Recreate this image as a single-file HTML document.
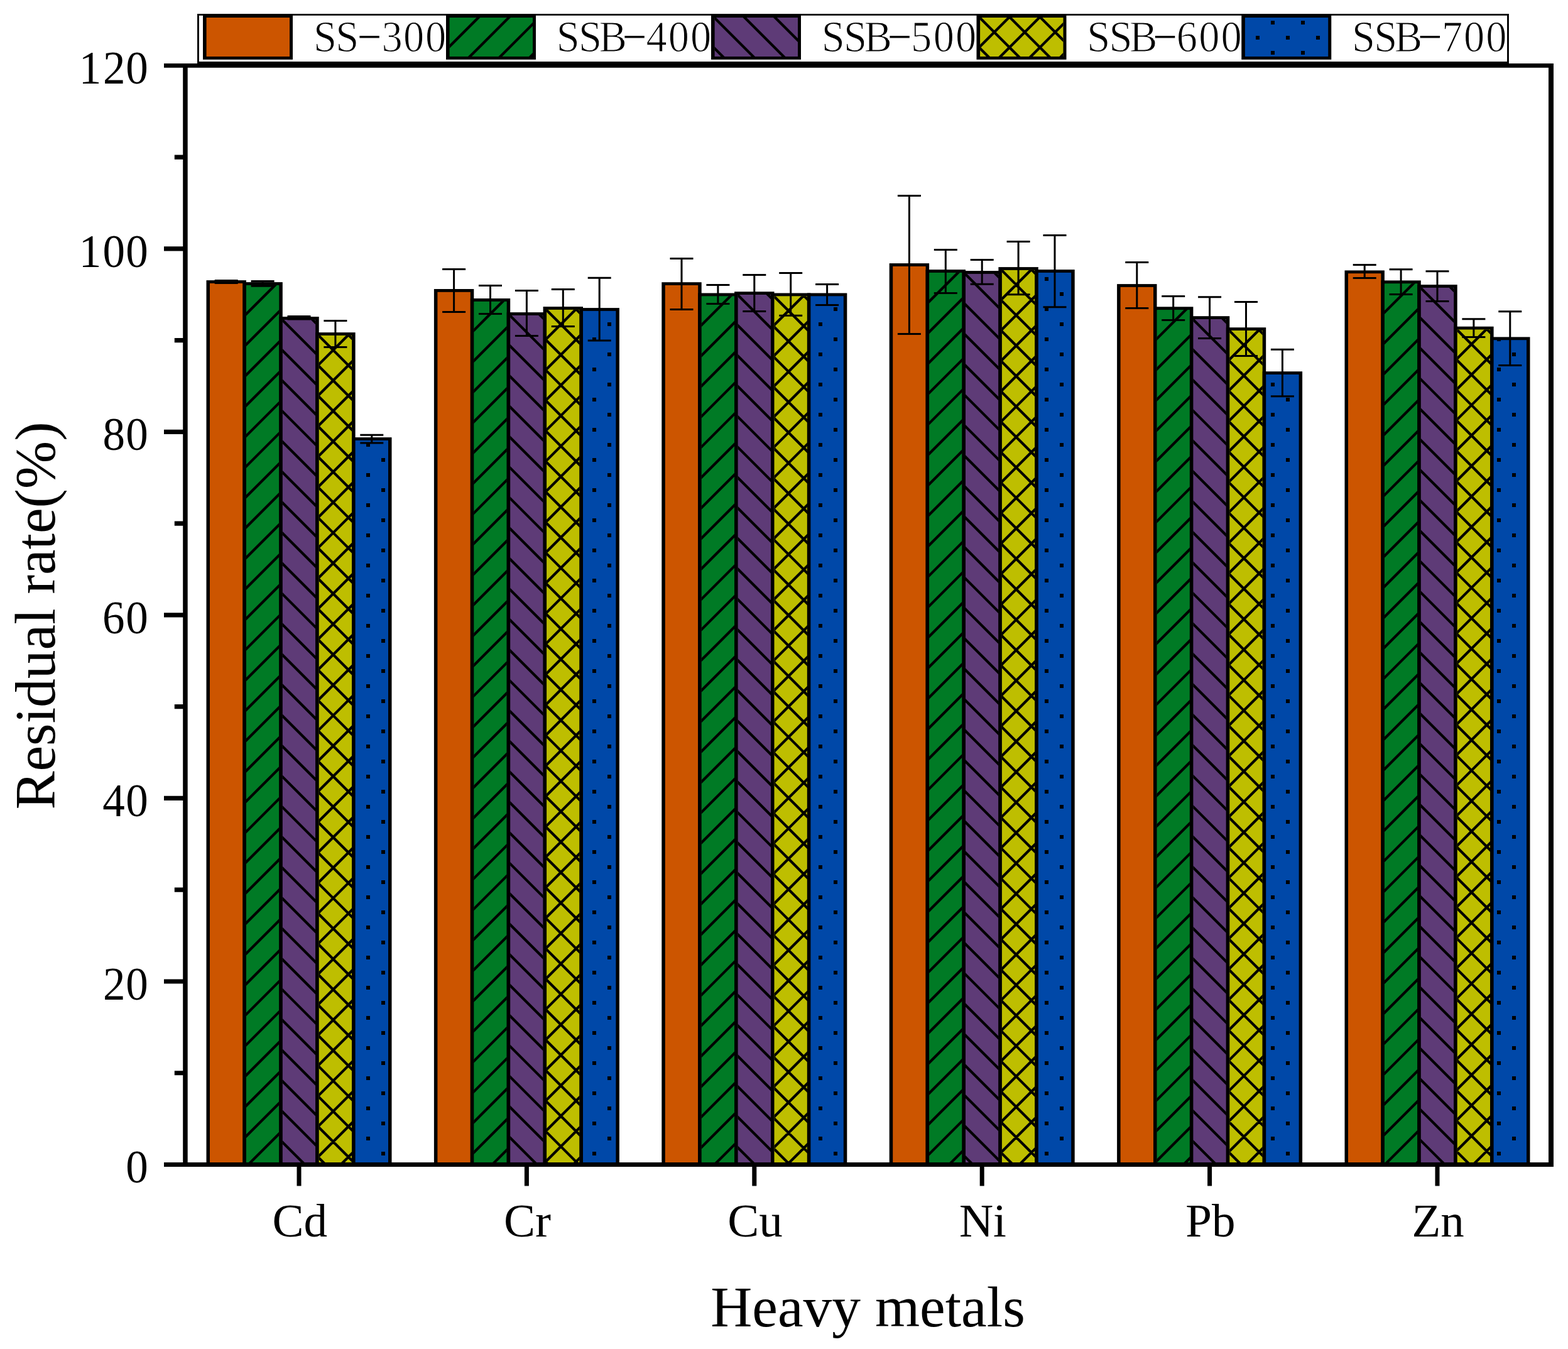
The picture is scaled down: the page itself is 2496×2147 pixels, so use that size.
<!DOCTYPE html><html><head><meta charset="utf-8"><title>Residual rate of heavy metals</title>
<style>html,body{margin:0;padding:0;background:#fff;overflow:hidden;}svg{display:block;}.t{font-family:"Liberation Serif","Noto Serif CJK SC",serif;fill:#000;}</style></head><body>
<svg width="2496" height="2147" viewBox="0 0 2496 2147">
<rect width="2496" height="2147" fill="#fff"/>
<defs><clipPath id="c1"><rect x="391.9" y="453.9" width="52.4" height="1399.6"/></clipPath><clipPath id="c2"><rect x="449.8" y="508.9" width="52.4" height="1344.6"/></clipPath><clipPath id="c3"><rect x="507.7" y="533.9" width="52.4" height="1319.6"/></clipPath><clipPath id="c4"><rect x="565.6" y="700.9" width="52.4" height="1152.6"/></clipPath><clipPath id="c5"><rect x="754.3" y="479.8" width="52.4" height="1373.7"/></clipPath><clipPath id="c6"><rect x="812.2" y="501.9" width="52.4" height="1351.6"/></clipPath><clipPath id="c7"><rect x="870.1" y="492.9" width="52.4" height="1360.6"/></clipPath><clipPath id="c8"><rect x="928" y="494.9" width="52.4" height="1358.6"/></clipPath><clipPath id="c9"><rect x="1116.7" y="471.3" width="52.4" height="1382.2"/></clipPath><clipPath id="c10"><rect x="1174.6" y="469" width="52.4" height="1384.5"/></clipPath><clipPath id="c11"><rect x="1232.5" y="471.3" width="52.4" height="1382.2"/></clipPath><clipPath id="c12"><rect x="1290.4" y="471.3" width="52.4" height="1382.2"/></clipPath><clipPath id="c13"><rect x="1479.1" y="433.9" width="52.4" height="1419.6"/></clipPath><clipPath id="c14"><rect x="1537" y="435.9" width="52.4" height="1417.6"/></clipPath><clipPath id="c15"><rect x="1594.9" y="429.9" width="52.4" height="1423.6"/></clipPath><clipPath id="c16"><rect x="1652.8" y="433.9" width="52.4" height="1419.6"/></clipPath><clipPath id="c17"><rect x="1841.5" y="493.1" width="52.4" height="1360.4"/></clipPath><clipPath id="c18"><rect x="1899.4" y="508" width="52.4" height="1345.5"/></clipPath><clipPath id="c19"><rect x="1957.3" y="526" width="52.4" height="1327.5"/></clipPath><clipPath id="c20"><rect x="2015.2" y="596" width="52.4" height="1257.5"/></clipPath><clipPath id="c21"><rect x="2203.9" y="451.2" width="52.4" height="1402.3"/></clipPath><clipPath id="c22"><rect x="2261.8" y="457.9" width="52.4" height="1395.6"/></clipPath><clipPath id="c23"><rect x="2319.7" y="524.5" width="52.4" height="1329"/></clipPath><clipPath id="c24"><rect x="2377.6" y="541.2" width="52.4" height="1312.3"/></clipPath><clipPath id="c25"><rect x="715.6" y="28" width="132.4" height="62"/></clipPath><clipPath id="c26"><rect x="1137.6" y="28" width="132.4" height="62"/></clipPath><clipPath id="c27"><rect x="1560.1" y="28" width="132.4" height="62"/></clipPath><clipPath id="c28"><rect x="1981.85" y="28" width="132.4" height="62"/></clipPath></defs>
<rect x="328.5" y="446.1" width="63.4" height="1407.4"/>
<rect x="334" y="450.9" width="52.4" height="1402.6" fill="#CC5500"/>
<rect x="386.4" y="449.1" width="63.4" height="1404.4"/>
<rect x="391.9" y="453.9" width="52.4" height="1399.6" fill="#007A25"/>
<path clip-path="url(#c1)" d="M387.9 406.99L448.3 346.59M387.9 455.45L448.3 395.05M387.9 503.91L448.3 443.51M387.9 552.37L448.3 491.97M387.9 600.83L448.3 540.43M387.9 649.29L448.3 588.89M387.9 697.75L448.3 637.35M387.9 746.21L448.3 685.81M387.9 794.67L448.3 734.27M387.9 843.13L448.3 782.73M387.9 891.59L448.3 831.19M387.9 940.05L448.3 879.65M387.9 988.51L448.3 928.11M387.9 1036.97L448.3 976.57M387.9 1085.43L448.3 1025.03M387.9 1133.89L448.3 1073.49M387.9 1182.35L448.3 1121.95M387.9 1230.81L448.3 1170.41M387.9 1279.27L448.3 1218.87M387.9 1327.73L448.3 1267.33M387.9 1376.19L448.3 1315.79M387.9 1424.65L448.3 1364.25M387.9 1473.11L448.3 1412.71M387.9 1521.57L448.3 1461.17M387.9 1570.03L448.3 1509.63M387.9 1618.49L448.3 1558.09M387.9 1666.95L448.3 1606.55M387.9 1715.41L448.3 1655.01M387.9 1763.87L448.3 1703.47M387.9 1812.33L448.3 1751.93M387.9 1860.79L448.3 1800.39M387.9 1909.25L448.3 1848.85M387.9 1957.71L448.3 1897.31" stroke="#000" stroke-width="4.2" fill="none"/>
<rect x="444.3" y="504.1" width="63.4" height="1349.4"/>
<rect x="449.8" y="508.9" width="52.4" height="1344.6" fill="#5E3B77"/>
<path clip-path="url(#c2)" d="M445.8 408.63L506.2 469.03M445.8 457.09L506.2 517.49M445.8 505.55L506.2 565.95M445.8 554.01L506.2 614.41M445.8 602.47L506.2 662.87M445.8 650.93L506.2 711.33M445.8 699.39L506.2 759.79M445.8 747.85L506.2 808.25M445.8 796.31L506.2 856.71M445.8 844.77L506.2 905.17M445.8 893.23L506.2 953.63M445.8 941.69L506.2 1002.09M445.8 990.15L506.2 1050.55M445.8 1038.61L506.2 1099.01M445.8 1087.07L506.2 1147.47M445.8 1135.53L506.2 1195.93M445.8 1183.99L506.2 1244.39M445.8 1232.45L506.2 1292.85M445.8 1280.91L506.2 1341.31M445.8 1329.37L506.2 1389.77M445.8 1377.83L506.2 1438.23M445.8 1426.29L506.2 1486.69M445.8 1474.75L506.2 1535.15M445.8 1523.21L506.2 1583.61M445.8 1571.67L506.2 1632.07M445.8 1620.13L506.2 1680.53M445.8 1668.59L506.2 1728.99M445.8 1717.05L506.2 1777.45M445.8 1765.51L506.2 1825.91M445.8 1813.97L506.2 1874.37M445.8 1862.43L506.2 1922.83" stroke="#000" stroke-width="4.2" fill="none"/>
<rect x="502.2" y="529.1" width="63.4" height="1324.4"/>
<rect x="507.7" y="533.9" width="52.4" height="1319.6" fill="#BEBE00"/>
<path clip-path="url(#c3)" d="M503.7 486.99L564.1 426.59M503.7 535.45L564.1 475.05M503.7 583.91L564.1 523.51M503.7 632.37L564.1 571.97M503.7 680.83L564.1 620.43M503.7 729.29L564.1 668.89M503.7 777.75L564.1 717.35M503.7 826.21L564.1 765.81M503.7 874.67L564.1 814.27M503.7 923.13L564.1 862.73M503.7 971.59L564.1 911.19M503.7 1020.05L564.1 959.65M503.7 1068.51L564.1 1008.11M503.7 1116.97L564.1 1056.57M503.7 1165.43L564.1 1105.03M503.7 1213.89L564.1 1153.49M503.7 1262.35L564.1 1201.95M503.7 1310.81L564.1 1250.41M503.7 1359.27L564.1 1298.87M503.7 1407.73L564.1 1347.33M503.7 1456.19L564.1 1395.79M503.7 1504.65L564.1 1444.25M503.7 1553.11L564.1 1492.71M503.7 1601.57L564.1 1541.17M503.7 1650.03L564.1 1589.63M503.7 1698.49L564.1 1638.09M503.7 1746.95L564.1 1686.55M503.7 1795.41L564.1 1735.01M503.7 1843.87L564.1 1783.47M503.7 1892.33L564.1 1831.93M503.7 1940.79L564.1 1880.39M503.7 433.63L564.1 494.03M503.7 482.09L564.1 542.49M503.7 530.55L564.1 590.95M503.7 579.01L564.1 639.41M503.7 627.47L564.1 687.87M503.7 675.93L564.1 736.33M503.7 724.39L564.1 784.79M503.7 772.85L564.1 833.25M503.7 821.31L564.1 881.71M503.7 869.77L564.1 930.17M503.7 918.23L564.1 978.63M503.7 966.69L564.1 1027.09M503.7 1015.15L564.1 1075.55M503.7 1063.61L564.1 1124.01M503.7 1112.07L564.1 1172.47M503.7 1160.53L564.1 1220.93M503.7 1208.99L564.1 1269.39M503.7 1257.45L564.1 1317.85M503.7 1305.91L564.1 1366.31M503.7 1354.37L564.1 1414.77M503.7 1402.83L564.1 1463.23M503.7 1451.29L564.1 1511.69M503.7 1499.75L564.1 1560.15M503.7 1548.21L564.1 1608.61M503.7 1596.67L564.1 1657.07M503.7 1645.13L564.1 1705.53M503.7 1693.59L564.1 1753.99M503.7 1742.05L564.1 1802.45M503.7 1790.51L564.1 1850.91M503.7 1838.97L564.1 1899.37M503.7 1887.43L564.1 1947.83" stroke="#000" stroke-width="4.2" fill="none"/>
<rect x="560.1" y="696.1" width="63.4" height="1157.4"/>
<rect x="565.6" y="700.9" width="52.4" height="1152.6" fill="#0048A8"/>
<path clip-path="url(#c4)" d="M583 705h6v6h-6zM583 753h6v6h-6zM583 801h6v6h-6zM583 849h6v6h-6zM583 897h6v6h-6zM583 945h6v6h-6zM583 993h6v6h-6zM583 1041h6v6h-6zM583 1089h6v6h-6zM583 1137h6v6h-6zM583 1185h6v6h-6zM583 1233h6v6h-6zM583 1281h6v6h-6zM583 1329h6v6h-6zM583 1377h6v6h-6zM583 1425h6v6h-6zM583 1473h6v6h-6zM583 1521h6v6h-6zM583 1569h6v6h-6zM583 1617h6v6h-6zM583 1665h6v6h-6zM583 1713h6v6h-6zM583 1761h6v6h-6zM583 1809h6v6h-6zM607 729h6v6h-6zM607 777h6v6h-6zM607 825h6v6h-6zM607 873h6v6h-6zM607 921h6v6h-6zM607 969h6v6h-6zM607 1017h6v6h-6zM607 1065h6v6h-6zM607 1113h6v6h-6zM607 1161h6v6h-6zM607 1209h6v6h-6zM607 1257h6v6h-6zM607 1305h6v6h-6zM607 1353h6v6h-6zM607 1401h6v6h-6zM607 1449h6v6h-6zM607 1497h6v6h-6zM607 1545h6v6h-6zM607 1593h6v6h-6zM607 1641h6v6h-6zM607 1689h6v6h-6zM607 1737h6v6h-6zM607 1785h6v6h-6zM607 1833h6v6h-6z"/>
<rect x="690.9" y="460" width="63.4" height="1393.5"/>
<rect x="696.4" y="464.8" width="52.4" height="1388.7" fill="#CC5500"/>
<rect x="748.8" y="475" width="63.4" height="1378.5"/>
<rect x="754.3" y="479.8" width="52.4" height="1373.7" fill="#007A25"/>
<path clip-path="url(#c5)" d="M750.3 432.89L810.7 372.49M750.3 481.35L810.7 420.95M750.3 529.81L810.7 469.41M750.3 578.27L810.7 517.87M750.3 626.73L810.7 566.33M750.3 675.19L810.7 614.79M750.3 723.65L810.7 663.25M750.3 772.11L810.7 711.71M750.3 820.57L810.7 760.17M750.3 869.03L810.7 808.63M750.3 917.49L810.7 857.09M750.3 965.95L810.7 905.55M750.3 1014.41L810.7 954.01M750.3 1062.87L810.7 1002.47M750.3 1111.33L810.7 1050.93M750.3 1159.79L810.7 1099.39M750.3 1208.25L810.7 1147.85M750.3 1256.71L810.7 1196.31M750.3 1305.17L810.7 1244.77M750.3 1353.63L810.7 1293.23M750.3 1402.09L810.7 1341.69M750.3 1450.55L810.7 1390.15M750.3 1499.01L810.7 1438.61M750.3 1547.47L810.7 1487.07M750.3 1595.93L810.7 1535.53M750.3 1644.39L810.7 1583.99M750.3 1692.85L810.7 1632.45M750.3 1741.31L810.7 1680.91M750.3 1789.77L810.7 1729.37M750.3 1838.23L810.7 1777.83M750.3 1886.69L810.7 1826.29M750.3 1935.15L810.7 1874.75" stroke="#000" stroke-width="4.2" fill="none"/>
<rect x="806.7" y="497.1" width="63.4" height="1356.4"/>
<rect x="812.2" y="501.9" width="52.4" height="1351.6" fill="#5E3B77"/>
<path clip-path="url(#c6)" d="M808.2 401.63L868.6 462.03M808.2 450.09L868.6 510.49M808.2 498.55L868.6 558.95M808.2 547.01L868.6 607.41M808.2 595.47L868.6 655.87M808.2 643.93L868.6 704.33M808.2 692.39L868.6 752.79M808.2 740.85L868.6 801.25M808.2 789.31L868.6 849.71M808.2 837.77L868.6 898.17M808.2 886.23L868.6 946.63M808.2 934.69L868.6 995.09M808.2 983.15L868.6 1043.55M808.2 1031.61L868.6 1092.01M808.2 1080.07L868.6 1140.47M808.2 1128.53L868.6 1188.93M808.2 1176.99L868.6 1237.39M808.2 1225.45L868.6 1285.85M808.2 1273.91L868.6 1334.31M808.2 1322.37L868.6 1382.77M808.2 1370.83L868.6 1431.23M808.2 1419.29L868.6 1479.69M808.2 1467.75L868.6 1528.15M808.2 1516.21L868.6 1576.61M808.2 1564.67L868.6 1625.07M808.2 1613.13L868.6 1673.53M808.2 1661.59L868.6 1721.99M808.2 1710.05L868.6 1770.45M808.2 1758.51L868.6 1818.91M808.2 1806.97L868.6 1867.37M808.2 1855.43L868.6 1915.83" stroke="#000" stroke-width="4.2" fill="none"/>
<rect x="864.6" y="488.1" width="63.4" height="1365.4"/>
<rect x="870.1" y="492.9" width="52.4" height="1360.6" fill="#BEBE00"/>
<path clip-path="url(#c7)" d="M866.1 445.99L926.5 385.59M866.1 494.45L926.5 434.05M866.1 542.91L926.5 482.51M866.1 591.37L926.5 530.97M866.1 639.83L926.5 579.43M866.1 688.29L926.5 627.89M866.1 736.75L926.5 676.35M866.1 785.21L926.5 724.81M866.1 833.67L926.5 773.27M866.1 882.13L926.5 821.73M866.1 930.59L926.5 870.19M866.1 979.05L926.5 918.65M866.1 1027.51L926.5 967.11M866.1 1075.97L926.5 1015.57M866.1 1124.43L926.5 1064.03M866.1 1172.89L926.5 1112.49M866.1 1221.35L926.5 1160.95M866.1 1269.81L926.5 1209.41M866.1 1318.27L926.5 1257.87M866.1 1366.73L926.5 1306.33M866.1 1415.19L926.5 1354.79M866.1 1463.65L926.5 1403.25M866.1 1512.11L926.5 1451.71M866.1 1560.57L926.5 1500.17M866.1 1609.03L926.5 1548.63M866.1 1657.49L926.5 1597.09M866.1 1705.95L926.5 1645.55M866.1 1754.41L926.5 1694.01M866.1 1802.87L926.5 1742.47M866.1 1851.33L926.5 1790.93M866.1 1899.79L926.5 1839.39M866.1 1948.25L926.5 1887.85M866.1 392.63L926.5 453.03M866.1 441.09L926.5 501.49M866.1 489.55L926.5 549.95M866.1 538.01L926.5 598.41M866.1 586.47L926.5 646.87M866.1 634.93L926.5 695.33M866.1 683.39L926.5 743.79M866.1 731.85L926.5 792.25M866.1 780.31L926.5 840.71M866.1 828.77L926.5 889.17M866.1 877.23L926.5 937.63M866.1 925.69L926.5 986.09M866.1 974.15L926.5 1034.55M866.1 1022.61L926.5 1083.01M866.1 1071.07L926.5 1131.47M866.1 1119.53L926.5 1179.93M866.1 1167.99L926.5 1228.39M866.1 1216.45L926.5 1276.85M866.1 1264.91L926.5 1325.31M866.1 1313.37L926.5 1373.77M866.1 1361.83L926.5 1422.23M866.1 1410.29L926.5 1470.69M866.1 1458.75L926.5 1519.15M866.1 1507.21L926.5 1567.61M866.1 1555.67L926.5 1616.07M866.1 1604.13L926.5 1664.53M866.1 1652.59L926.5 1712.99M866.1 1701.05L926.5 1761.45M866.1 1749.51L926.5 1809.91M866.1 1797.97L926.5 1858.37M866.1 1846.43L926.5 1906.83M866.1 1894.89L926.5 1955.29" stroke="#000" stroke-width="4.2" fill="none"/>
<rect x="922.5" y="490.1" width="63.4" height="1363.4"/>
<rect x="928" y="494.9" width="52.4" height="1358.6" fill="#0048A8"/>
<path clip-path="url(#c8)" d="M967 513h6v6h-6zM967 561h6v6h-6zM967 609h6v6h-6zM967 657h6v6h-6zM967 705h6v6h-6zM967 753h6v6h-6zM967 801h6v6h-6zM967 849h6v6h-6zM967 897h6v6h-6zM967 945h6v6h-6zM967 993h6v6h-6zM967 1041h6v6h-6zM967 1089h6v6h-6zM967 1137h6v6h-6zM967 1185h6v6h-6zM967 1233h6v6h-6zM967 1281h6v6h-6zM967 1329h6v6h-6zM967 1377h6v6h-6zM967 1425h6v6h-6zM967 1473h6v6h-6zM967 1521h6v6h-6zM967 1569h6v6h-6zM967 1617h6v6h-6zM967 1665h6v6h-6zM967 1713h6v6h-6zM967 1761h6v6h-6zM967 1809h6v6h-6zM943 489h6v6h-6zM943 537h6v6h-6zM943 585h6v6h-6zM943 633h6v6h-6zM943 681h6v6h-6zM943 729h6v6h-6zM943 777h6v6h-6zM943 825h6v6h-6zM943 873h6v6h-6zM943 921h6v6h-6zM943 969h6v6h-6zM943 1017h6v6h-6zM943 1065h6v6h-6zM943 1113h6v6h-6zM943 1161h6v6h-6zM943 1209h6v6h-6zM943 1257h6v6h-6zM943 1305h6v6h-6zM943 1353h6v6h-6zM943 1401h6v6h-6zM943 1449h6v6h-6zM943 1497h6v6h-6zM943 1545h6v6h-6zM943 1593h6v6h-6zM943 1641h6v6h-6zM943 1689h6v6h-6zM943 1737h6v6h-6zM943 1785h6v6h-6zM943 1833h6v6h-6z"/>
<rect x="1053.3" y="449.2" width="63.4" height="1404.3"/>
<rect x="1058.8" y="454" width="52.4" height="1399.5" fill="#CC5500"/>
<rect x="1111.2" y="466.5" width="63.4" height="1387"/>
<rect x="1116.7" y="471.3" width="52.4" height="1382.2" fill="#007A25"/>
<path clip-path="url(#c9)" d="M1112.7 424.39L1173.1 363.99M1112.7 472.85L1173.1 412.45M1112.7 521.31L1173.1 460.91M1112.7 569.77L1173.1 509.37M1112.7 618.23L1173.1 557.83M1112.7 666.69L1173.1 606.29M1112.7 715.15L1173.1 654.75M1112.7 763.61L1173.1 703.21M1112.7 812.07L1173.1 751.67M1112.7 860.53L1173.1 800.13M1112.7 908.99L1173.1 848.59M1112.7 957.45L1173.1 897.05M1112.7 1005.91L1173.1 945.51M1112.7 1054.37L1173.1 993.97M1112.7 1102.83L1173.1 1042.43M1112.7 1151.29L1173.1 1090.89M1112.7 1199.75L1173.1 1139.35M1112.7 1248.21L1173.1 1187.81M1112.7 1296.67L1173.1 1236.27M1112.7 1345.13L1173.1 1284.73M1112.7 1393.59L1173.1 1333.19M1112.7 1442.05L1173.1 1381.65M1112.7 1490.51L1173.1 1430.11M1112.7 1538.97L1173.1 1478.57M1112.7 1587.43L1173.1 1527.03M1112.7 1635.89L1173.1 1575.49M1112.7 1684.35L1173.1 1623.95M1112.7 1732.81L1173.1 1672.41M1112.7 1781.27L1173.1 1720.87M1112.7 1829.73L1173.1 1769.33M1112.7 1878.19L1173.1 1817.79M1112.7 1926.65L1173.1 1866.25" stroke="#000" stroke-width="4.2" fill="none"/>
<rect x="1169.1" y="464.2" width="63.4" height="1389.3"/>
<rect x="1174.6" y="469" width="52.4" height="1384.5" fill="#5E3B77"/>
<path clip-path="url(#c10)" d="M1170.6 368.73L1231 429.13M1170.6 417.19L1231 477.59M1170.6 465.65L1231 526.05M1170.6 514.11L1231 574.51M1170.6 562.57L1231 622.97M1170.6 611.03L1231 671.43M1170.6 659.49L1231 719.89M1170.6 707.95L1231 768.35M1170.6 756.41L1231 816.81M1170.6 804.87L1231 865.27M1170.6 853.33L1231 913.73M1170.6 901.79L1231 962.19M1170.6 950.25L1231 1010.65M1170.6 998.71L1231 1059.11M1170.6 1047.17L1231 1107.57M1170.6 1095.63L1231 1156.03M1170.6 1144.09L1231 1204.49M1170.6 1192.55L1231 1252.95M1170.6 1241.01L1231 1301.41M1170.6 1289.47L1231 1349.87M1170.6 1337.93L1231 1398.33M1170.6 1386.39L1231 1446.79M1170.6 1434.85L1231 1495.25M1170.6 1483.31L1231 1543.71M1170.6 1531.77L1231 1592.17M1170.6 1580.23L1231 1640.63M1170.6 1628.69L1231 1689.09M1170.6 1677.15L1231 1737.55M1170.6 1725.61L1231 1786.01M1170.6 1774.07L1231 1834.47M1170.6 1822.53L1231 1882.93M1170.6 1870.99L1231 1931.39" stroke="#000" stroke-width="4.2" fill="none"/>
<rect x="1227" y="466.5" width="63.4" height="1387"/>
<rect x="1232.5" y="471.3" width="52.4" height="1382.2" fill="#BEBE00"/>
<path clip-path="url(#c11)" d="M1228.5 424.39L1288.9 363.99M1228.5 472.85L1288.9 412.45M1228.5 521.31L1288.9 460.91M1228.5 569.77L1288.9 509.37M1228.5 618.23L1288.9 557.83M1228.5 666.69L1288.9 606.29M1228.5 715.15L1288.9 654.75M1228.5 763.61L1288.9 703.21M1228.5 812.07L1288.9 751.67M1228.5 860.53L1288.9 800.13M1228.5 908.99L1288.9 848.59M1228.5 957.45L1288.9 897.05M1228.5 1005.91L1288.9 945.51M1228.5 1054.37L1288.9 993.97M1228.5 1102.83L1288.9 1042.43M1228.5 1151.29L1288.9 1090.89M1228.5 1199.75L1288.9 1139.35M1228.5 1248.21L1288.9 1187.81M1228.5 1296.67L1288.9 1236.27M1228.5 1345.13L1288.9 1284.73M1228.5 1393.59L1288.9 1333.19M1228.5 1442.05L1288.9 1381.65M1228.5 1490.51L1288.9 1430.11M1228.5 1538.97L1288.9 1478.57M1228.5 1587.43L1288.9 1527.03M1228.5 1635.89L1288.9 1575.49M1228.5 1684.35L1288.9 1623.95M1228.5 1732.81L1288.9 1672.41M1228.5 1781.27L1288.9 1720.87M1228.5 1829.73L1288.9 1769.33M1228.5 1878.19L1288.9 1817.79M1228.5 1926.65L1288.9 1866.25M1228.5 371.03L1288.9 431.43M1228.5 419.49L1288.9 479.89M1228.5 467.95L1288.9 528.35M1228.5 516.41L1288.9 576.81M1228.5 564.87L1288.9 625.27M1228.5 613.33L1288.9 673.73M1228.5 661.79L1288.9 722.19M1228.5 710.25L1288.9 770.65M1228.5 758.71L1288.9 819.11M1228.5 807.17L1288.9 867.57M1228.5 855.63L1288.9 916.03M1228.5 904.09L1288.9 964.49M1228.5 952.55L1288.9 1012.95M1228.5 1001.01L1288.9 1061.41M1228.5 1049.47L1288.9 1109.87M1228.5 1097.93L1288.9 1158.33M1228.5 1146.39L1288.9 1206.79M1228.5 1194.85L1288.9 1255.25M1228.5 1243.31L1288.9 1303.71M1228.5 1291.77L1288.9 1352.17M1228.5 1340.23L1288.9 1400.63M1228.5 1388.69L1288.9 1449.09M1228.5 1437.15L1288.9 1497.55M1228.5 1485.61L1288.9 1546.01M1228.5 1534.07L1288.9 1594.47M1228.5 1582.53L1288.9 1642.93M1228.5 1630.99L1288.9 1691.39M1228.5 1679.45L1288.9 1739.85M1228.5 1727.91L1288.9 1788.31M1228.5 1776.37L1288.9 1836.77M1228.5 1824.83L1288.9 1885.23M1228.5 1873.29L1288.9 1933.69" stroke="#000" stroke-width="4.2" fill="none"/>
<rect x="1284.9" y="466.5" width="63.4" height="1387"/>
<rect x="1290.4" y="471.3" width="52.4" height="1382.2" fill="#0048A8"/>
<path clip-path="url(#c12)" d="M1303 513h6v6h-6zM1303 561h6v6h-6zM1303 609h6v6h-6zM1303 657h6v6h-6zM1303 705h6v6h-6zM1303 753h6v6h-6zM1303 801h6v6h-6zM1303 849h6v6h-6zM1303 897h6v6h-6zM1303 945h6v6h-6zM1303 993h6v6h-6zM1303 1041h6v6h-6zM1303 1089h6v6h-6zM1303 1137h6v6h-6zM1303 1185h6v6h-6zM1303 1233h6v6h-6zM1303 1281h6v6h-6zM1303 1329h6v6h-6zM1303 1377h6v6h-6zM1303 1425h6v6h-6zM1303 1473h6v6h-6zM1303 1521h6v6h-6zM1303 1569h6v6h-6zM1303 1617h6v6h-6zM1303 1665h6v6h-6zM1303 1713h6v6h-6zM1303 1761h6v6h-6zM1303 1809h6v6h-6zM1327 489h6v6h-6zM1327 537h6v6h-6zM1327 585h6v6h-6zM1327 633h6v6h-6zM1327 681h6v6h-6zM1327 729h6v6h-6zM1327 777h6v6h-6zM1327 825h6v6h-6zM1327 873h6v6h-6zM1327 921h6v6h-6zM1327 969h6v6h-6zM1327 1017h6v6h-6zM1327 1065h6v6h-6zM1327 1113h6v6h-6zM1327 1161h6v6h-6zM1327 1209h6v6h-6zM1327 1257h6v6h-6zM1327 1305h6v6h-6zM1327 1353h6v6h-6zM1327 1401h6v6h-6zM1327 1449h6v6h-6zM1327 1497h6v6h-6zM1327 1545h6v6h-6zM1327 1593h6v6h-6zM1327 1641h6v6h-6zM1327 1689h6v6h-6zM1327 1737h6v6h-6zM1327 1785h6v6h-6zM1327 1833h6v6h-6z"/>
<rect x="1415.7" y="419.1" width="63.4" height="1434.4"/>
<rect x="1421.2" y="423.9" width="52.4" height="1429.6" fill="#CC5500"/>
<rect x="1473.6" y="429.1" width="63.4" height="1424.4"/>
<rect x="1479.1" y="433.9" width="52.4" height="1419.6" fill="#007A25"/>
<path clip-path="url(#c13)" d="M1475.1 386.99L1535.5 326.59M1475.1 435.45L1535.5 375.05M1475.1 483.91L1535.5 423.51M1475.1 532.37L1535.5 471.97M1475.1 580.83L1535.5 520.43M1475.1 629.29L1535.5 568.89M1475.1 677.75L1535.5 617.35M1475.1 726.21L1535.5 665.81M1475.1 774.67L1535.5 714.27M1475.1 823.13L1535.5 762.73M1475.1 871.59L1535.5 811.19M1475.1 920.05L1535.5 859.65M1475.1 968.51L1535.5 908.11M1475.1 1016.97L1535.5 956.57M1475.1 1065.43L1535.5 1005.03M1475.1 1113.89L1535.5 1053.49M1475.1 1162.35L1535.5 1101.95M1475.1 1210.81L1535.5 1150.41M1475.1 1259.27L1535.5 1198.87M1475.1 1307.73L1535.5 1247.33M1475.1 1356.19L1535.5 1295.79M1475.1 1404.65L1535.5 1344.25M1475.1 1453.11L1535.5 1392.71M1475.1 1501.57L1535.5 1441.17M1475.1 1550.03L1535.5 1489.63M1475.1 1598.49L1535.5 1538.09M1475.1 1646.95L1535.5 1586.55M1475.1 1695.41L1535.5 1635.01M1475.1 1743.87L1535.5 1683.47M1475.1 1792.33L1535.5 1731.93M1475.1 1840.79L1535.5 1780.39M1475.1 1889.25L1535.5 1828.85M1475.1 1937.71L1535.5 1877.31" stroke="#000" stroke-width="4.2" fill="none"/>
<rect x="1531.5" y="431.1" width="63.4" height="1422.4"/>
<rect x="1537" y="435.9" width="52.4" height="1417.6" fill="#5E3B77"/>
<path clip-path="url(#c14)" d="M1533 335.63L1593.4 396.03M1533 384.09L1593.4 444.49M1533 432.55L1593.4 492.95M1533 481.01L1593.4 541.41M1533 529.47L1593.4 589.87M1533 577.93L1593.4 638.33M1533 626.39L1593.4 686.79M1533 674.85L1593.4 735.25M1533 723.31L1593.4 783.71M1533 771.77L1593.4 832.17M1533 820.23L1593.4 880.63M1533 868.69L1593.4 929.09M1533 917.15L1593.4 977.55M1533 965.61L1593.4 1026.01M1533 1014.07L1593.4 1074.47M1533 1062.53L1593.4 1122.93M1533 1110.99L1593.4 1171.39M1533 1159.45L1593.4 1219.85M1533 1207.91L1593.4 1268.31M1533 1256.37L1593.4 1316.77M1533 1304.83L1593.4 1365.23M1533 1353.29L1593.4 1413.69M1533 1401.75L1593.4 1462.15M1533 1450.21L1593.4 1510.61M1533 1498.67L1593.4 1559.07M1533 1547.13L1593.4 1607.53M1533 1595.59L1593.4 1655.99M1533 1644.05L1593.4 1704.45M1533 1692.51L1593.4 1752.91M1533 1740.97L1593.4 1801.37M1533 1789.43L1593.4 1849.83M1533 1837.89L1593.4 1898.29M1533 1886.35L1593.4 1946.75" stroke="#000" stroke-width="4.2" fill="none"/>
<rect x="1589.4" y="425.1" width="63.4" height="1428.4"/>
<rect x="1594.9" y="429.9" width="52.4" height="1423.6" fill="#BEBE00"/>
<path clip-path="url(#c15)" d="M1590.9 382.99L1651.3 322.59M1590.9 431.45L1651.3 371.05M1590.9 479.91L1651.3 419.51M1590.9 528.37L1651.3 467.97M1590.9 576.83L1651.3 516.43M1590.9 625.29L1651.3 564.89M1590.9 673.75L1651.3 613.35M1590.9 722.21L1651.3 661.81M1590.9 770.67L1651.3 710.27M1590.9 819.13L1651.3 758.73M1590.9 867.59L1651.3 807.19M1590.9 916.05L1651.3 855.65M1590.9 964.51L1651.3 904.11M1590.9 1012.97L1651.3 952.57M1590.9 1061.43L1651.3 1001.03M1590.9 1109.89L1651.3 1049.49M1590.9 1158.35L1651.3 1097.95M1590.9 1206.81L1651.3 1146.41M1590.9 1255.27L1651.3 1194.87M1590.9 1303.73L1651.3 1243.33M1590.9 1352.19L1651.3 1291.79M1590.9 1400.65L1651.3 1340.25M1590.9 1449.11L1651.3 1388.71M1590.9 1497.57L1651.3 1437.17M1590.9 1546.03L1651.3 1485.63M1590.9 1594.49L1651.3 1534.09M1590.9 1642.95L1651.3 1582.55M1590.9 1691.41L1651.3 1631.01M1590.9 1739.87L1651.3 1679.47M1590.9 1788.33L1651.3 1727.93M1590.9 1836.79L1651.3 1776.39M1590.9 1885.25L1651.3 1824.85M1590.9 1933.71L1651.3 1873.31M1590.9 329.63L1651.3 390.03M1590.9 378.09L1651.3 438.49M1590.9 426.55L1651.3 486.95M1590.9 475.01L1651.3 535.41M1590.9 523.47L1651.3 583.87M1590.9 571.93L1651.3 632.33M1590.9 620.39L1651.3 680.79M1590.9 668.85L1651.3 729.25M1590.9 717.31L1651.3 777.71M1590.9 765.77L1651.3 826.17M1590.9 814.23L1651.3 874.63M1590.9 862.69L1651.3 923.09M1590.9 911.15L1651.3 971.55M1590.9 959.61L1651.3 1020.01M1590.9 1008.07L1651.3 1068.47M1590.9 1056.53L1651.3 1116.93M1590.9 1104.99L1651.3 1165.39M1590.9 1153.45L1651.3 1213.85M1590.9 1201.91L1651.3 1262.31M1590.9 1250.37L1651.3 1310.77M1590.9 1298.83L1651.3 1359.23M1590.9 1347.29L1651.3 1407.69M1590.9 1395.75L1651.3 1456.15M1590.9 1444.21L1651.3 1504.61M1590.9 1492.67L1651.3 1553.07M1590.9 1541.13L1651.3 1601.53M1590.9 1589.59L1651.3 1649.99M1590.9 1638.05L1651.3 1698.45M1590.9 1686.51L1651.3 1746.91M1590.9 1734.97L1651.3 1795.37M1590.9 1783.43L1651.3 1843.83M1590.9 1831.89L1651.3 1892.29M1590.9 1880.35L1651.3 1940.75" stroke="#000" stroke-width="4.2" fill="none"/>
<rect x="1647.3" y="429.1" width="63.4" height="1424.4"/>
<rect x="1652.8" y="433.9" width="52.4" height="1419.6" fill="#0048A8"/>
<path clip-path="url(#c16)" d="M1687 465h6v6h-6zM1687 513h6v6h-6zM1687 561h6v6h-6zM1687 609h6v6h-6zM1687 657h6v6h-6zM1687 705h6v6h-6zM1687 753h6v6h-6zM1687 801h6v6h-6zM1687 849h6v6h-6zM1687 897h6v6h-6zM1687 945h6v6h-6zM1687 993h6v6h-6zM1687 1041h6v6h-6zM1687 1089h6v6h-6zM1687 1137h6v6h-6zM1687 1185h6v6h-6zM1687 1233h6v6h-6zM1687 1281h6v6h-6zM1687 1329h6v6h-6zM1687 1377h6v6h-6zM1687 1425h6v6h-6zM1687 1473h6v6h-6zM1687 1521h6v6h-6zM1687 1569h6v6h-6zM1687 1617h6v6h-6zM1687 1665h6v6h-6zM1687 1713h6v6h-6zM1687 1761h6v6h-6zM1687 1809h6v6h-6zM1663 441h6v6h-6zM1663 489h6v6h-6zM1663 537h6v6h-6zM1663 585h6v6h-6zM1663 633h6v6h-6zM1663 681h6v6h-6zM1663 729h6v6h-6zM1663 777h6v6h-6zM1663 825h6v6h-6zM1663 873h6v6h-6zM1663 921h6v6h-6zM1663 969h6v6h-6zM1663 1017h6v6h-6zM1663 1065h6v6h-6zM1663 1113h6v6h-6zM1663 1161h6v6h-6zM1663 1209h6v6h-6zM1663 1257h6v6h-6zM1663 1305h6v6h-6zM1663 1353h6v6h-6zM1663 1401h6v6h-6zM1663 1449h6v6h-6zM1663 1497h6v6h-6zM1663 1545h6v6h-6zM1663 1593h6v6h-6zM1663 1641h6v6h-6zM1663 1689h6v6h-6zM1663 1737h6v6h-6zM1663 1785h6v6h-6zM1663 1833h6v6h-6z"/>
<rect x="1778.1" y="452.1" width="63.4" height="1401.4"/>
<rect x="1783.6" y="456.9" width="52.4" height="1396.6" fill="#CC5500"/>
<rect x="1836" y="488.3" width="63.4" height="1365.2"/>
<rect x="1841.5" y="493.1" width="52.4" height="1360.4" fill="#007A25"/>
<path clip-path="url(#c17)" d="M1837.5 446.19L1897.9 385.79M1837.5 494.65L1897.9 434.25M1837.5 543.11L1897.9 482.71M1837.5 591.57L1897.9 531.17M1837.5 640.03L1897.9 579.63M1837.5 688.49L1897.9 628.09M1837.5 736.95L1897.9 676.55M1837.5 785.41L1897.9 725.01M1837.5 833.87L1897.9 773.47M1837.5 882.33L1897.9 821.93M1837.5 930.79L1897.9 870.39M1837.5 979.25L1897.9 918.85M1837.5 1027.71L1897.9 967.31M1837.5 1076.17L1897.9 1015.77M1837.5 1124.63L1897.9 1064.23M1837.5 1173.09L1897.9 1112.69M1837.5 1221.55L1897.9 1161.15M1837.5 1270.01L1897.9 1209.61M1837.5 1318.47L1897.9 1258.07M1837.5 1366.93L1897.9 1306.53M1837.5 1415.39L1897.9 1354.99M1837.5 1463.85L1897.9 1403.45M1837.5 1512.31L1897.9 1451.91M1837.5 1560.77L1897.9 1500.37M1837.5 1609.23L1897.9 1548.83M1837.5 1657.69L1897.9 1597.29M1837.5 1706.15L1897.9 1645.75M1837.5 1754.61L1897.9 1694.21M1837.5 1803.07L1897.9 1742.67M1837.5 1851.53L1897.9 1791.13M1837.5 1899.99L1897.9 1839.59M1837.5 1948.45L1897.9 1888.05" stroke="#000" stroke-width="4.2" fill="none"/>
<rect x="1893.9" y="503.2" width="63.4" height="1350.3"/>
<rect x="1899.4" y="508" width="52.4" height="1345.5" fill="#5E3B77"/>
<path clip-path="url(#c18)" d="M1895.4 407.73L1955.8 468.13M1895.4 456.19L1955.8 516.59M1895.4 504.65L1955.8 565.05M1895.4 553.11L1955.8 613.51M1895.4 601.57L1955.8 661.97M1895.4 650.03L1955.8 710.43M1895.4 698.49L1955.8 758.89M1895.4 746.95L1955.8 807.35M1895.4 795.41L1955.8 855.81M1895.4 843.87L1955.8 904.27M1895.4 892.33L1955.8 952.73M1895.4 940.79L1955.8 1001.19M1895.4 989.25L1955.8 1049.65M1895.4 1037.71L1955.8 1098.11M1895.4 1086.17L1955.8 1146.57M1895.4 1134.63L1955.8 1195.03M1895.4 1183.09L1955.8 1243.49M1895.4 1231.55L1955.8 1291.95M1895.4 1280.01L1955.8 1340.41M1895.4 1328.47L1955.8 1388.87M1895.4 1376.93L1955.8 1437.33M1895.4 1425.39L1955.8 1485.79M1895.4 1473.85L1955.8 1534.25M1895.4 1522.31L1955.8 1582.71M1895.4 1570.77L1955.8 1631.17M1895.4 1619.23L1955.8 1679.63M1895.4 1667.69L1955.8 1728.09M1895.4 1716.15L1955.8 1776.55M1895.4 1764.61L1955.8 1825.01M1895.4 1813.07L1955.8 1873.47M1895.4 1861.53L1955.8 1921.93" stroke="#000" stroke-width="4.2" fill="none"/>
<rect x="1951.8" y="521.2" width="63.4" height="1332.3"/>
<rect x="1957.3" y="526" width="52.4" height="1327.5" fill="#BEBE00"/>
<path clip-path="url(#c19)" d="M1953.3 479.09L2013.7 418.69M1953.3 527.55L2013.7 467.15M1953.3 576.01L2013.7 515.61M1953.3 624.47L2013.7 564.07M1953.3 672.93L2013.7 612.53M1953.3 721.39L2013.7 660.99M1953.3 769.85L2013.7 709.45M1953.3 818.31L2013.7 757.91M1953.3 866.77L2013.7 806.37M1953.3 915.23L2013.7 854.83M1953.3 963.69L2013.7 903.29M1953.3 1012.15L2013.7 951.75M1953.3 1060.61L2013.7 1000.21M1953.3 1109.07L2013.7 1048.67M1953.3 1157.53L2013.7 1097.13M1953.3 1205.99L2013.7 1145.59M1953.3 1254.45L2013.7 1194.05M1953.3 1302.91L2013.7 1242.51M1953.3 1351.37L2013.7 1290.97M1953.3 1399.83L2013.7 1339.43M1953.3 1448.29L2013.7 1387.89M1953.3 1496.75L2013.7 1436.35M1953.3 1545.21L2013.7 1484.81M1953.3 1593.67L2013.7 1533.27M1953.3 1642.13L2013.7 1581.73M1953.3 1690.59L2013.7 1630.19M1953.3 1739.05L2013.7 1678.65M1953.3 1787.51L2013.7 1727.11M1953.3 1835.97L2013.7 1775.57M1953.3 1884.43L2013.7 1824.03M1953.3 1932.89L2013.7 1872.49M1953.3 425.73L2013.7 486.13M1953.3 474.19L2013.7 534.59M1953.3 522.65L2013.7 583.05M1953.3 571.11L2013.7 631.51M1953.3 619.57L2013.7 679.97M1953.3 668.03L2013.7 728.43M1953.3 716.49L2013.7 776.89M1953.3 764.95L2013.7 825.35M1953.3 813.41L2013.7 873.81M1953.3 861.87L2013.7 922.27M1953.3 910.33L2013.7 970.73M1953.3 958.79L2013.7 1019.19M1953.3 1007.25L2013.7 1067.65M1953.3 1055.71L2013.7 1116.11M1953.3 1104.17L2013.7 1164.57M1953.3 1152.63L2013.7 1213.03M1953.3 1201.09L2013.7 1261.49M1953.3 1249.55L2013.7 1309.95M1953.3 1298.01L2013.7 1358.41M1953.3 1346.47L2013.7 1406.87M1953.3 1394.93L2013.7 1455.33M1953.3 1443.39L2013.7 1503.79M1953.3 1491.85L2013.7 1552.25M1953.3 1540.31L2013.7 1600.71M1953.3 1588.77L2013.7 1649.17M1953.3 1637.23L2013.7 1697.63M1953.3 1685.69L2013.7 1746.09M1953.3 1734.15L2013.7 1794.55M1953.3 1782.61L2013.7 1843.01M1953.3 1831.07L2013.7 1891.47M1953.3 1879.53L2013.7 1939.93" stroke="#000" stroke-width="4.2" fill="none"/>
<rect x="2009.7" y="591.2" width="63.4" height="1262.3"/>
<rect x="2015.2" y="596" width="52.4" height="1257.5" fill="#0048A8"/>
<path clip-path="url(#c20)" d="M2023 609h6v6h-6zM2023 657h6v6h-6zM2023 705h6v6h-6zM2023 753h6v6h-6zM2023 801h6v6h-6zM2023 849h6v6h-6zM2023 897h6v6h-6zM2023 945h6v6h-6zM2023 993h6v6h-6zM2023 1041h6v6h-6zM2023 1089h6v6h-6zM2023 1137h6v6h-6zM2023 1185h6v6h-6zM2023 1233h6v6h-6zM2023 1281h6v6h-6zM2023 1329h6v6h-6zM2023 1377h6v6h-6zM2023 1425h6v6h-6zM2023 1473h6v6h-6zM2023 1521h6v6h-6zM2023 1569h6v6h-6zM2023 1617h6v6h-6zM2023 1665h6v6h-6zM2023 1713h6v6h-6zM2023 1761h6v6h-6zM2023 1809h6v6h-6zM2047 633h6v6h-6zM2047 681h6v6h-6zM2047 729h6v6h-6zM2047 777h6v6h-6zM2047 825h6v6h-6zM2047 873h6v6h-6zM2047 921h6v6h-6zM2047 969h6v6h-6zM2047 1017h6v6h-6zM2047 1065h6v6h-6zM2047 1113h6v6h-6zM2047 1161h6v6h-6zM2047 1209h6v6h-6zM2047 1257h6v6h-6zM2047 1305h6v6h-6zM2047 1353h6v6h-6zM2047 1401h6v6h-6zM2047 1449h6v6h-6zM2047 1497h6v6h-6zM2047 1545h6v6h-6zM2047 1593h6v6h-6zM2047 1641h6v6h-6zM2047 1689h6v6h-6zM2047 1737h6v6h-6zM2047 1785h6v6h-6zM2047 1833h6v6h-6z"/>
<rect x="2140.5" y="430.4" width="63.4" height="1423.1"/>
<rect x="2146" y="435.2" width="52.4" height="1418.3" fill="#CC5500"/>
<rect x="2198.4" y="446.4" width="63.4" height="1407.1"/>
<rect x="2203.9" y="451.2" width="52.4" height="1402.3" fill="#007A25"/>
<path clip-path="url(#c21)" d="M2199.9 404.29L2260.3 343.89M2199.9 452.75L2260.3 392.35M2199.9 501.21L2260.3 440.81M2199.9 549.67L2260.3 489.27M2199.9 598.13L2260.3 537.73M2199.9 646.59L2260.3 586.19M2199.9 695.05L2260.3 634.65M2199.9 743.51L2260.3 683.11M2199.9 791.97L2260.3 731.57M2199.9 840.43L2260.3 780.03M2199.9 888.89L2260.3 828.49M2199.9 937.35L2260.3 876.95M2199.9 985.81L2260.3 925.41M2199.9 1034.27L2260.3 973.87M2199.9 1082.73L2260.3 1022.33M2199.9 1131.19L2260.3 1070.79M2199.9 1179.65L2260.3 1119.25M2199.9 1228.11L2260.3 1167.71M2199.9 1276.57L2260.3 1216.17M2199.9 1325.03L2260.3 1264.63M2199.9 1373.49L2260.3 1313.09M2199.9 1421.95L2260.3 1361.55M2199.9 1470.41L2260.3 1410.01M2199.9 1518.87L2260.3 1458.47M2199.9 1567.33L2260.3 1506.93M2199.9 1615.79L2260.3 1555.39M2199.9 1664.25L2260.3 1603.85M2199.9 1712.71L2260.3 1652.31M2199.9 1761.17L2260.3 1700.77M2199.9 1809.63L2260.3 1749.23M2199.9 1858.09L2260.3 1797.69M2199.9 1906.55L2260.3 1846.15M2199.9 1955.01L2260.3 1894.61" stroke="#000" stroke-width="4.2" fill="none"/>
<rect x="2256.3" y="453.1" width="63.4" height="1400.4"/>
<rect x="2261.8" y="457.9" width="52.4" height="1395.6" fill="#5E3B77"/>
<path clip-path="url(#c22)" d="M2257.8 357.63L2318.2 418.03M2257.8 406.09L2318.2 466.49M2257.8 454.55L2318.2 514.95M2257.8 503.01L2318.2 563.41M2257.8 551.47L2318.2 611.87M2257.8 599.93L2318.2 660.33M2257.8 648.39L2318.2 708.79M2257.8 696.85L2318.2 757.25M2257.8 745.31L2318.2 805.71M2257.8 793.77L2318.2 854.17M2257.8 842.23L2318.2 902.63M2257.8 890.69L2318.2 951.09M2257.8 939.15L2318.2 999.55M2257.8 987.61L2318.2 1048.01M2257.8 1036.07L2318.2 1096.47M2257.8 1084.53L2318.2 1144.93M2257.8 1132.99L2318.2 1193.39M2257.8 1181.45L2318.2 1241.85M2257.8 1229.91L2318.2 1290.31M2257.8 1278.37L2318.2 1338.77M2257.8 1326.83L2318.2 1387.23M2257.8 1375.29L2318.2 1435.69M2257.8 1423.75L2318.2 1484.15M2257.8 1472.21L2318.2 1532.61M2257.8 1520.67L2318.2 1581.07M2257.8 1569.13L2318.2 1629.53M2257.8 1617.59L2318.2 1677.99M2257.8 1666.05L2318.2 1726.45M2257.8 1714.51L2318.2 1774.91M2257.8 1762.97L2318.2 1823.37M2257.8 1811.43L2318.2 1871.83M2257.8 1859.89L2318.2 1920.29" stroke="#000" stroke-width="4.2" fill="none"/>
<rect x="2314.2" y="519.7" width="63.4" height="1333.8"/>
<rect x="2319.7" y="524.5" width="52.4" height="1329" fill="#BEBE00"/>
<path clip-path="url(#c23)" d="M2315.7 477.59L2376.1 417.19M2315.7 526.05L2376.1 465.65M2315.7 574.51L2376.1 514.11M2315.7 622.97L2376.1 562.57M2315.7 671.43L2376.1 611.03M2315.7 719.89L2376.1 659.49M2315.7 768.35L2376.1 707.95M2315.7 816.81L2376.1 756.41M2315.7 865.27L2376.1 804.87M2315.7 913.73L2376.1 853.33M2315.7 962.19L2376.1 901.79M2315.7 1010.65L2376.1 950.25M2315.7 1059.11L2376.1 998.71M2315.7 1107.57L2376.1 1047.17M2315.7 1156.03L2376.1 1095.63M2315.7 1204.49L2376.1 1144.09M2315.7 1252.95L2376.1 1192.55M2315.7 1301.41L2376.1 1241.01M2315.7 1349.87L2376.1 1289.47M2315.7 1398.33L2376.1 1337.93M2315.7 1446.79L2376.1 1386.39M2315.7 1495.25L2376.1 1434.85M2315.7 1543.71L2376.1 1483.31M2315.7 1592.17L2376.1 1531.77M2315.7 1640.63L2376.1 1580.23M2315.7 1689.09L2376.1 1628.69M2315.7 1737.55L2376.1 1677.15M2315.7 1786.01L2376.1 1725.61M2315.7 1834.47L2376.1 1774.07M2315.7 1882.93L2376.1 1822.53M2315.7 1931.39L2376.1 1870.99M2315.7 424.23L2376.1 484.63M2315.7 472.69L2376.1 533.09M2315.7 521.15L2376.1 581.55M2315.7 569.61L2376.1 630.01M2315.7 618.07L2376.1 678.47M2315.7 666.53L2376.1 726.93M2315.7 714.99L2376.1 775.39M2315.7 763.45L2376.1 823.85M2315.7 811.91L2376.1 872.31M2315.7 860.37L2376.1 920.77M2315.7 908.83L2376.1 969.23M2315.7 957.29L2376.1 1017.69M2315.7 1005.75L2376.1 1066.15M2315.7 1054.21L2376.1 1114.61M2315.7 1102.67L2376.1 1163.07M2315.7 1151.13L2376.1 1211.53M2315.7 1199.59L2376.1 1259.99M2315.7 1248.05L2376.1 1308.45M2315.7 1296.51L2376.1 1356.91M2315.7 1344.97L2376.1 1405.37M2315.7 1393.43L2376.1 1453.83M2315.7 1441.89L2376.1 1502.29M2315.7 1490.35L2376.1 1550.75M2315.7 1538.81L2376.1 1599.21M2315.7 1587.27L2376.1 1647.67M2315.7 1635.73L2376.1 1696.13M2315.7 1684.19L2376.1 1744.59M2315.7 1732.65L2376.1 1793.05M2315.7 1781.11L2376.1 1841.51M2315.7 1829.57L2376.1 1889.97M2315.7 1878.03L2376.1 1938.43" stroke="#000" stroke-width="4.2" fill="none"/>
<rect x="2372.1" y="536.4" width="63.4" height="1317.1"/>
<rect x="2377.6" y="541.2" width="52.4" height="1312.3" fill="#0048A8"/>
<path clip-path="url(#c24)" d="M2407 561h6v6h-6zM2407 609h6v6h-6zM2407 657h6v6h-6zM2407 705h6v6h-6zM2407 753h6v6h-6zM2407 801h6v6h-6zM2407 849h6v6h-6zM2407 897h6v6h-6zM2407 945h6v6h-6zM2407 993h6v6h-6zM2407 1041h6v6h-6zM2407 1089h6v6h-6zM2407 1137h6v6h-6zM2407 1185h6v6h-6zM2407 1233h6v6h-6zM2407 1281h6v6h-6zM2407 1329h6v6h-6zM2407 1377h6v6h-6zM2407 1425h6v6h-6zM2407 1473h6v6h-6zM2407 1521h6v6h-6zM2407 1569h6v6h-6zM2407 1617h6v6h-6zM2407 1665h6v6h-6zM2407 1713h6v6h-6zM2407 1761h6v6h-6zM2407 1809h6v6h-6zM2383 537h6v6h-6zM2383 585h6v6h-6zM2383 633h6v6h-6zM2383 681h6v6h-6zM2383 729h6v6h-6zM2383 777h6v6h-6zM2383 825h6v6h-6zM2383 873h6v6h-6zM2383 921h6v6h-6zM2383 969h6v6h-6zM2383 1017h6v6h-6zM2383 1065h6v6h-6zM2383 1113h6v6h-6zM2383 1161h6v6h-6zM2383 1209h6v6h-6zM2383 1257h6v6h-6zM2383 1305h6v6h-6zM2383 1353h6v6h-6zM2383 1401h6v6h-6zM2383 1449h6v6h-6zM2383 1497h6v6h-6zM2383 1545h6v6h-6zM2383 1593h6v6h-6zM2383 1641h6v6h-6zM2383 1689h6v6h-6zM2383 1737h6v6h-6zM2383 1785h6v6h-6zM2383 1833h6v6h-6z"/>
<path d="M360.2 446.5V450.5M341.7 446.5h37M341.7 450.5h37M418.1 447.5V455.3M399.6 447.5h37M399.6 455.3h37M476 503.5V508M457.5 503.5h37M457.5 508h37M533.9 510.6V552.4M515.4 510.6h37M515.4 552.4h37M591.8 692.3V705M573.3 692.3h37M573.3 705h37M722.6 428.4V496.5M704.1 428.4h37M704.1 496.5h37M780.5 454.5V499.4M762 454.5h37M762 499.4h37M838.4 462.5V534.5M819.9 462.5h37M819.9 534.5h37M896.3 460.5V519.4M877.8 460.5h37M877.8 519.4h37M954.2 442.3V542.1M935.7 442.3h37M935.7 542.1h37M1085 411.4V492.5M1066.5 411.4h37M1066.5 492.5h37M1142.9 453.5V483.5M1124.4 453.5h37M1124.4 483.5h37M1200.8 437.5V495.5M1182.3 437.5h37M1182.3 495.5h37M1258.7 434.5V502.3M1240.2 434.5h37M1240.2 502.3h37M1316.6 452.5V485.5M1298.1 452.5h37M1298.1 485.5h37M1447.4 311.4V531.6M1428.9 311.4h37M1428.9 531.6h37M1505.3 397.4V466.5M1486.8 397.4h37M1486.8 466.5h37M1563.2 413.4V452.3M1544.7 413.4h37M1544.7 452.3h37M1621.1 384.6V468.8M1602.6 384.6h37M1602.6 468.8h37M1679 374.5V488.7M1660.5 374.5h37M1660.5 488.7h37M1809.8 417.5V490.5M1791.3 417.5h37M1791.3 490.5h37M1867.7 471.5V509.5M1849.2 471.5h37M1849.2 509.5h37M1925.6 472.7V538.5M1907.1 472.7h37M1907.1 538.5h37M1983.5 480.5V566.5M1965 480.5h37M1965 566.5h37M2041.4 556.3V630.7M2022.9 556.3h37M2022.9 630.7h37M2172.2 421.4V442.6M2153.7 421.4h37M2153.7 442.6h37M2230.1 428.7V468.5M2211.6 428.7h37M2211.6 468.5h37M2288 431.7V479.6M2269.5 431.7h37M2269.5 479.6h37M2345.9 507.7V536.5M2327.4 507.7h37M2327.4 536.5h37M2403.8 495.8V581.5M2385.3 495.8h37M2385.3 581.5h37" stroke="#000" stroke-width="3" fill="none"/>
<path d="M261 101H2473V107.8H261ZM291.2 101H298.7V1857H291.2ZM2465 101H2473V1857H2465ZM261 1850H2473V1857H261ZM277.8 1704.14H291.5V1711.34H277.8ZM261 1558.38H291.5V1565.58H261ZM277.8 1412.62H291.5V1419.82H277.8ZM261 1266.87H291.5V1274.07H261ZM277.8 1121.11H291.5V1128.31H277.8ZM261 975.35H291.5V982.55H261ZM277.8 829.59H291.5V836.79H277.8ZM261 683.83H291.5V691.03H261ZM277.8 538.08H291.5V545.28H277.8ZM261 392.32H291.5V399.52H261ZM277.8 246.56H291.5V253.76H277.8ZM472.5 1856H479.5V1887.5H472.5ZM834.9 1856H841.9V1887.5H834.9ZM1197.3 1856H1204.3V1887.5H1197.3ZM1559.7 1856H1566.7V1887.5H1559.7ZM1922.1 1856H1929.1V1887.5H1922.1ZM2284.5 1856H2291.5V1887.5H2284.5Z"/>
<text class="t" transform="scale(0.96 1)" x="208.58" y="1882.2" font-size="74">0</text>
<text class="t" transform="scale(0.96 1)" x="170.71 208.58" y="1590.68" font-size="74">20</text>
<text class="t" transform="scale(0.96 1)" x="170.15 208.58" y="1299.17" font-size="74">40</text>
<text class="t" transform="scale(0.96 1)" x="169.82 208.58" y="1007.65" font-size="74">60</text>
<text class="t" transform="scale(0.96 1)" x="170.3 208.58" y="716.13" font-size="74">80</text>
<text class="t" transform="scale(0.96 1)" x="130.98 170.3 208.58" y="424.62" font-size="74">100</text>
<text class="t" transform="scale(0.96 1)" x="130.98 170.71 208.58" y="133.1" font-size="74">120</text>
<text class="t" x="477.2" y="1968" font-size="75" text-anchor="middle">Cd</text>
<text class="t" x="839.6" y="1968" font-size="75" text-anchor="middle">Cr</text>
<text class="t" x="1202" y="1968" font-size="75" text-anchor="middle">Cu</text>
<text class="t" x="1564.4" y="1968" font-size="75" text-anchor="middle">Ni</text>
<text class="t" x="1926.8" y="1968" font-size="75" text-anchor="middle">Pb</text>
<text class="t" x="2289.2" y="1968" font-size="75" text-anchor="middle">Zn</text>
<text class="t" x="1381.5" y="2111" font-size="91.5" text-anchor="middle">Heavy metals</text>
<text class="t" transform="translate(87.1 979.9) rotate(-90)" font-size="91.5" text-anchor="middle">Residual rate(%)</text>
<path d="M315.45 23.4H2400.5V99.5H315.45Z" fill="#fff" stroke="#000" stroke-width="2.9"/>
<rect x="323" y="23" width="143" height="71.8"/>
<rect x="328.6" y="28" width="132.4" height="62" fill="#CC5500"/>
<text class="t" transform="scale(0.95 1)" y="82.3" font-size="70" stroke="#fff" stroke-width="1.2"><tspan x="525.37 562.42">SS</tspan><tspan x="596.61" dy="11.2" font-size="90" style="font-family:IPAGothic,monospace" stroke-width="3">-</tspan><tspan x="639.36 675.71 712.76" dy="-11.2">300</tspan></text>
<rect x="710" y="23" width="143" height="71.8"/>
<rect x="715.6" y="28" width="132.4" height="62" fill="#007A25"/>
<path clip-path="url(#c25)" d="M711.6 -19.06L852 -159.46M711.6 29.4L852 -111M711.6 77.86L852 -62.54M711.6 126.32L852 -14.08M711.6 174.78L852 34.38M711.6 223.24L852 82.84M711.6 271.7L852 131.3" stroke="#000" stroke-width="4.2" fill="none"/>
<text class="t" transform="scale(0.95 1)" y="82.3" font-size="70" stroke="#fff" stroke-width="1.2"><tspan x="932.47 969.52 1003.57">SSB</tspan><tspan x="1040.76" dy="11.2" font-size="90" style="font-family:IPAGothic,monospace" stroke-width="3">-</tspan><tspan x="1082.68 1119.87 1156.92" dy="-11.2">400</tspan></text>
<rect x="1132" y="23" width="143" height="71.8"/>
<rect x="1137.6" y="28" width="132.4" height="62" fill="#5E3B77"/>
<path clip-path="url(#c26)" d="M1133.6 -120.78L1274 19.62M1133.6 -72.32L1274 68.08M1133.6 -23.86L1274 116.54M1133.6 24.6L1274 165M1133.6 73.06L1274 213.46M1133.6 121.52L1274 261.92" stroke="#000" stroke-width="4.2" fill="none"/>
<text class="t" transform="scale(0.95 1)" y="82.3" font-size="70" stroke="#fff" stroke-width="1.2"><tspan x="1376.68 1413.73 1447.78">SSB</tspan><tspan x="1484.97" dy="11.2" font-size="90" style="font-family:IPAGothic,monospace" stroke-width="3">-</tspan><tspan x="1526.36 1564.08 1601.13" dy="-11.2">500</tspan></text>
<rect x="1554.5" y="23" width="143" height="71.8"/>
<rect x="1560.1" y="28" width="132.4" height="62" fill="#BEBE00"/>
<path clip-path="url(#c27)" d="M1556.1 -19.06L1696.5 -159.46M1556.1 29.4L1696.5 -111M1556.1 77.86L1696.5 -62.54M1556.1 126.32L1696.5 -14.08M1556.1 174.78L1696.5 34.38M1556.1 223.24L1696.5 82.84M1556.1 271.7L1696.5 131.3M1556.1 -120.78L1696.5 19.62M1556.1 -72.32L1696.5 68.08M1556.1 -23.86L1696.5 116.54M1556.1 24.6L1696.5 165M1556.1 73.06L1696.5 213.46M1556.1 121.52L1696.5 261.92" stroke="#000" stroke-width="4.2" fill="none"/>
<text class="t" transform="scale(0.95 1)" y="82.3" font-size="70" stroke="#fff" stroke-width="1.2"><tspan x="1821.42 1858.47 1892.51">SSB</tspan><tspan x="1929.71" dy="11.2" font-size="90" style="font-family:IPAGothic,monospace" stroke-width="3">-</tspan><tspan x="1971.31 2008.82 2045.87" dy="-11.2">600</tspan></text>
<rect x="1976.25" y="23" width="143" height="71.8"/>
<rect x="1981.85" y="28" width="132.4" height="62" fill="#0048A8"/>
<path clip-path="url(#c28)" d="M2023 33h6v6h-6zM2023 81h6v6h-6zM2071 33h6v6h-6zM2071 81h6v6h-6zM1999 57h6v6h-6zM2047 57h6v6h-6zM2095 57h6v6h-6z"/>
<text class="t" transform="scale(0.95 1)" y="82.3" font-size="70" stroke="#fff" stroke-width="1.2"><tspan x="2265.36 2302.42 2336.46">SSB</tspan><tspan x="2373.66" dy="11.2" font-size="90" style="font-family:IPAGothic,monospace" stroke-width="3">-</tspan><tspan x="2415.71 2452.76 2489.82" dy="-11.2">700</tspan></text>
</svg></body></html>
